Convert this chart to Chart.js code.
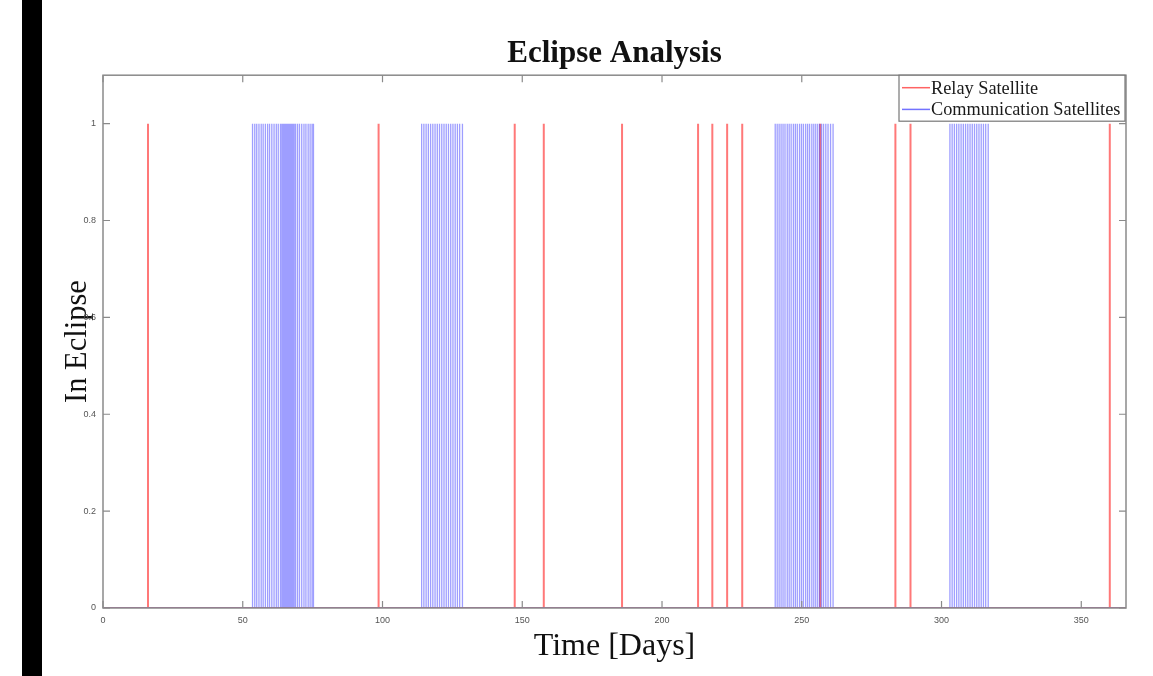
<!DOCTYPE html>
<html>
<head>
<meta charset="utf-8">
<script src="https://cdn.jsdelivr.net/npm/chart.js@4.4.1/dist/chart.umd.min.js"></script>
<style>
  html, body { margin: 0; padding: 0; background: #fff; }
  #wrap { position: relative; width: 1153px; height: 676px; }
  #bar { position: absolute; left: 22px; top: 0; width: 20px; height: 676px; background: #000; }
  canvas { position: absolute; left: 0; top: 0; }
</style>
</head>
<body>
<div id="wrap">
  <canvas id="c" width="1153" height="676"></canvas>
  <div id="bar"></div>
</div>
<script>
// ---- data (days on which an eclipse occurs) ----
const titleText = 'Eclipse Analysis';
const xTitle = 'Time [Days]';
const yTitle = 'In Eclipse';
const seriesNames = ['Relay Satellite', 'Communication Satellites'];
const xTicks = [0, 50, 100, 150, 200, 250, 300, 350];
const yTicks = [0, 0.2, 0.4, 0.6, 0.8, 1];
const xMax = 366;

const relayEclipseDays = [16.1, 98.6, 147.3, 157.7, 185.7, 212.9, 218.0, 223.3, 228.7, 256.6, 283.5, 288.9, 360.2];

const commEclipseDays = [
  53.5, 54.3, 55.0, 55.8, 56.6, 57.3, 58.1, 58.9, 59.6, 60.4, 61.2, 62.0, 62.7, 63.5,
  64.0, 64.4, 64.8, 65.2, 65.6, 66.0, 66.4, 66.8, 67.2, 67.6, 68.0, 68.4, 68.9,
  69.6, 70.3, 71.1, 71.9, 72.6, 73.4, 74.1, 74.8, 75.3,
  114.0, 114.8, 115.6, 116.4, 117.2, 118.0, 118.8, 119.6, 120.4, 121.2, 122.0, 122.8,
  123.6, 124.4, 125.2, 126.0, 126.8, 127.6, 128.6,
  240.5, 241.2, 241.9, 242.6, 243.3, 244.0, 244.8, 245.5, 246.2, 247.0, 247.7, 248.4,
  249.2, 249.9, 250.6, 251.4, 252.1, 252.8, 253.6, 254.3, 255.0, 255.7, 256.4, 257.1,
  257.8, 258.6, 259.4, 260.3, 261.2,
  303.0, 303.8, 304.6, 305.4, 306.2, 307.0, 307.8, 308.6, 309.4, 310.2, 311.0, 311.8,
  312.6, 313.4, 314.2, 315.0, 315.8, 316.7
];

// build 0/1 step series from eclipse days
function spikes(days) {
  const pts = [{x: 0, y: 0}];
  days.forEach(d => { pts.push({x: d, y: 0}, {x: d, y: 1}, {x: d, y: 0}); });
  pts.push({x: xMax, y: 0});
  return pts;
}

const axisColor = '#8a8a8a';
const serif = '"Liberation Serif", "Times New Roman", serif';
const tickFont = {family: '"Liberation Sans", Arial, sans-serif', size: 9};

const framePlugin = {
  id: 'frame',
  afterDatasetsDraw(chart) {
    const {ctx, chartArea: a, scales} = chart;
    ctx.save();
    ctx.strokeStyle = axisColor;
    ctx.lineWidth = 1.5;
    ctx.strokeRect(a.left, a.top, a.right - a.left, a.bottom - a.top);
    ctx.lineWidth = 1.2;
    const tl = 7;
    scales.x.ticks.forEach(t => {
      const px = scales.x.getPixelForValue(t.value);
      ctx.beginPath();
      ctx.moveTo(px, a.bottom); ctx.lineTo(px, a.bottom - tl);
      ctx.moveTo(px, a.top); ctx.lineTo(px, a.top + tl);
      ctx.stroke();
    });
    scales.y.ticks.forEach(t => {
      const py = scales.y.getPixelForValue(t.value);
      ctx.beginPath();
      ctx.moveTo(a.left, py); ctx.lineTo(a.left + tl, py);
      ctx.moveTo(a.right, py); ctx.lineTo(a.right - tl, py);
      ctx.stroke();
    });
    ctx.restore();
  }
};

const legendPlugin = {
  id: 'boxLegend',
  afterDraw(chart) {
    const {ctx, chartArea: a} = chart;
    const ds = chart.data.datasets;
    const w = 226, h = 46;
    const x0 = a.right - w - 1, y0 = a.top;
    ctx.save();
    ctx.fillStyle = '#fff';
    ctx.fillRect(x0, y0, w, h);
    ctx.strokeStyle = '#777';
    ctx.lineWidth = 1.2;
    ctx.strokeRect(x0, y0, w, h);
    ctx.font = '18.3px ' + serif;
    ctx.textBaseline = 'middle';
    ds.forEach((d, i) => {
      const y = y0 + 12.5 + i * 21.7;
      ctx.strokeStyle = d.legendColor;
      ctx.lineWidth = 1.5;
      ctx.beginPath();
      ctx.moveTo(x0 + 3, y); ctx.lineTo(x0 + 31, y);
      ctx.stroke();
      ctx.fillStyle = '#1a1a1a';
      ctx.fillText(d.label, x0 + 32, y + 1);
    });
    ctx.restore();
  }
};

new Chart(document.getElementById('c'), {
  type: 'line',
  data: {
    datasets: [
      {
        label: seriesNames[0],
        data: spikes(relayEclipseDays),
        borderColor: 'rgba(255,30,30,0.6)',
        legendColor: 'rgba(255,60,60,0.8)',
        borderWidth: 2,
        order: 2
      },
      {
        label: seriesNames[1],
        data: spikes(commEclipseDays),
        borderColor: 'rgba(40,40,255,0.45)',
        legendColor: 'rgba(80,80,255,0.8)',
        borderWidth: 1.3,
        order: 1
      }
    ]
  },
  options: {
    responsive: false,
    animation: false,
    elements: {point: {radius: 0}, line: {tension: 0}},
    layout: {padding: {left: 0, right: 27, top: 0, bottom: 0}},
    plugins: {
      legend: {display: false},
      tooltip: {enabled: false},
      title: {
        display: true,
        text: titleText,
        fullSize: false,
        color: '#111',
        font: {family: serif, size: 31, weight: 'bold', lineHeight: 1.2},
        padding: {top: 35, bottom: 3}
      }
    },
    scales: {
      x: {
        type: 'linear',
        min: 0,
        max: xMax,
        afterBuildTicks: s => { s.ticks = xTicks.map(v => ({value: v})); },
        afterFit: s => { s.height = 68; },
        grid: {display: false, drawTicks: false},
        border: {display: false},
        ticks: {color: '#555', font: tickFont, padding: 7, maxRotation: 0, autoSkip: false},
        title: {
          display: true,
          text: xTitle,
          color: '#111',
          font: {family: serif, size: 32, lineHeight: 1.2},
          padding: {top: 0, bottom: 10}
        }
      },
      y: {
        type: 'linear',
        min: 0,
        max: 1.1,
        afterBuildTicks: s => { s.ticks = yTicks.map(v => ({value: v})); },
        afterFit: s => { s.width = 103; },
        grid: {display: false, drawTicks: false},
        border: {display: false},
        ticks: {color: '#555', font: tickFont, padding: 7, autoSkip: false,
                callback: v => String(v)},
        title: {
          display: true,
          text: yTitle,
          color: '#111',
          font: {family: serif, size: 30.5, lineHeight: 1.2},
          padding: {top: 60, bottom: 0}
        }
      }
    }
  },
  plugins: [framePlugin, legendPlugin]
});
</script>
</body>
</html>
